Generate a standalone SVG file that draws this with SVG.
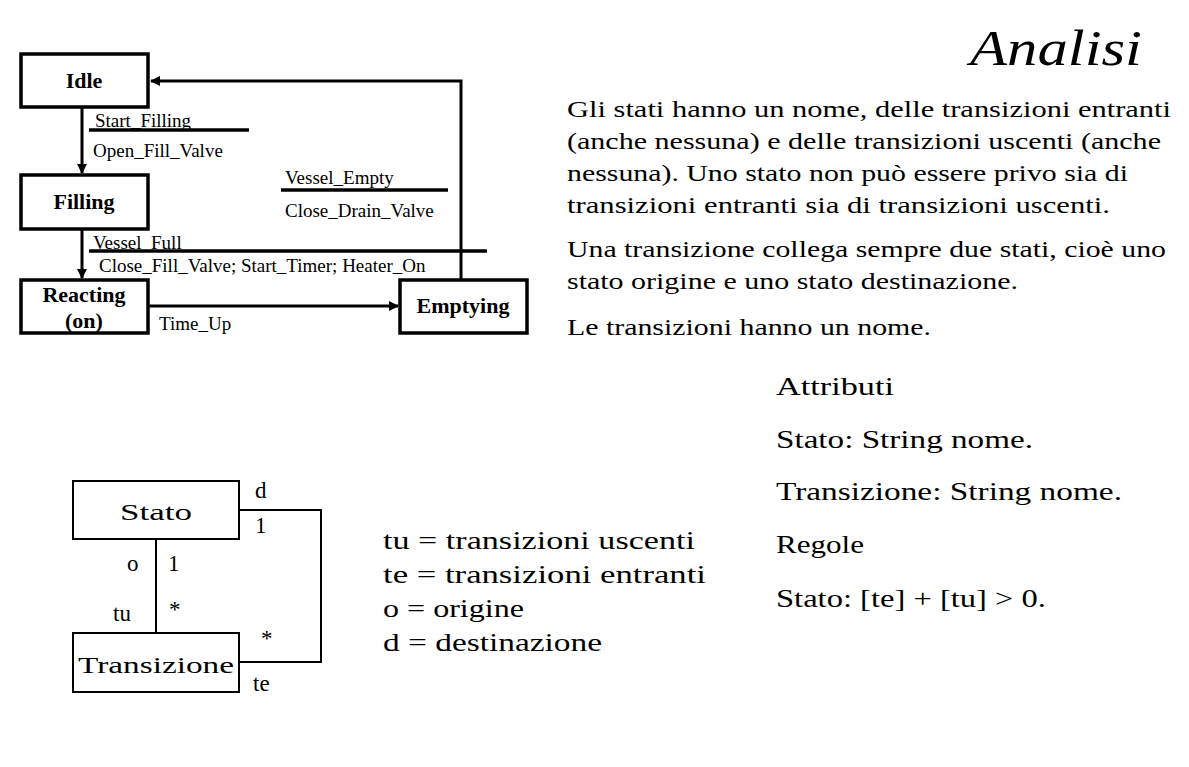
<svg xmlns="http://www.w3.org/2000/svg" width="1189" height="767" viewBox="0 0 1189 767">
<style>
.st{fill:#fff;stroke:#000;stroke-width:3.5}
.sn{font-family:"Liberation Serif",serif;font-weight:bold;font-size:22px;text-anchor:middle}
.lb{font-family:"Liberation Serif",serif;font-size:19px}
.ln{stroke:#000;stroke-width:3;fill:none}
.ul{stroke:#000;stroke-width:3.5}
.tx{font-family:"Liberation Serif","DejaVu Serif",serif;font-size:23px}
.tx2{font-family:"Liberation Serif","DejaVu Serif",serif;font-size:25px}
.ub{fill:#fff;stroke:#000;stroke-width:2}
.uc{stroke:#000;stroke-width:2;fill:none}
.um{font-family:"Liberation Serif","DejaVu Serif",serif;font-size:23px}
</style>
<defs>
<marker id="ah" markerWidth="10" markerHeight="10" refX="9" refY="5" orient="auto" markerUnits="userSpaceOnUse">
<path d="M0,0 L10,5 L0,10 Z" fill="#000"/>
</marker>
</defs>
<rect width="1189" height="767" fill="#fff"/>
<text x="970" y="65" font-family="Liberation Serif,serif" font-style="italic" font-size="50" textLength="172" lengthAdjust="spacingAndGlyphs">Analisi</text>

<g id="connectors">
<line class="ln" x1="82" y1="108" x2="82" y2="173" marker-end="url(#ah)"/>
<line class="ln" x1="82" y1="230" x2="82" y2="278" marker-end="url(#ah)"/>
<line class="ln" x1="148" y1="306" x2="398" y2="306" marker-end="url(#ah)"/>
<polyline class="ln" points="461,280 461,81 151,81" marker-end="url(#ah)"/>
<line class="ul" x1="89" y1="130" x2="249" y2="130"/>
<line class="ul" x1="281" y1="190" x2="448" y2="190"/>
<line class="ul" x1="89" y1="251" x2="487" y2="251"/>
<text class="lb" x="95" y="127">Start_Filling</text>
<text class="lb" x="93" y="157">Open_Fill_Valve</text>
<text class="lb" x="285" y="184">Vessel_Empty</text>
<text class="lb" x="285" y="217">Close_Drain_Valve</text>
<text class="lb" x="93" y="249">Vessel_Full</text>
<text class="lb" x="99" y="272">Close_Fill_Valve; Start_Timer; Heater_On</text>
<text class="lb" x="159" y="330">Time_Up</text>
</g>
<g id="idle"><rect class="st" x="21" y="54" width="127" height="53"/><text class="sn" x="84" y="88">Idle</text></g>
<g id="filling"><rect class="st" x="21" y="175" width="127" height="54"/><text class="sn" x="84" y="209">Filling</text></g>
<g id="reacting"><rect class="st" x="21" y="280" width="127" height="53"/><text class="sn" x="84" y="302">Reacting</text><text class="sn" x="84" y="328">(on)</text></g>
<g id="emptying"><rect class="st" x="400" y="280" width="127" height="53"/><text class="sn" x="463" y="313">Emptying</text></g>

<g id="paragraph">
<text class="tx" x="567" y="117" textLength="604" lengthAdjust="spacingAndGlyphs">Gli stati hanno un nome, delle transizioni entranti</text>
<text class="tx" x="567" y="149" textLength="594" lengthAdjust="spacingAndGlyphs">(anche nessuna) e delle transizioni uscenti (anche</text>
<text class="tx" x="567" y="181" textLength="561" lengthAdjust="spacingAndGlyphs">nessuna). Uno stato non può essere privo sia di</text>
<text class="tx" x="567" y="213" textLength="543" lengthAdjust="spacingAndGlyphs">transizioni entranti sia di transizioni uscenti.</text>
<text class="tx" x="567" y="257" textLength="599" lengthAdjust="spacingAndGlyphs">Una transizione collega sempre due stati, cioè uno</text>
<text class="tx" x="567" y="289" textLength="451" lengthAdjust="spacingAndGlyphs">stato origine e uno stato destinazione.</text>
<text class="tx" x="567" y="335" textLength="364" lengthAdjust="spacingAndGlyphs">Le transizioni hanno un nome.</text>
</g>
<g id="rules">
<text class="tx2" x="776" y="395" textLength="118" lengthAdjust="spacingAndGlyphs">Attributi</text>
<text class="tx2" x="776" y="448" textLength="257" lengthAdjust="spacingAndGlyphs">Stato: String nome.</text>
<text class="tx2" x="776" y="500" textLength="346" lengthAdjust="spacingAndGlyphs">Transizione: String nome.</text>
<text class="tx2" x="776" y="553" textLength="88" lengthAdjust="spacingAndGlyphs">Regole</text>
<text class="tx2" x="776" y="607" textLength="270" lengthAdjust="spacingAndGlyphs">Stato: [te] + [tu] &gt; 0.</text>
</g>
<g id="legend">
<text class="tx2" x="383" y="549" textLength="312" lengthAdjust="spacingAndGlyphs">tu = transizioni uscenti</text>
<text class="tx2" x="383" y="583" textLength="323" lengthAdjust="spacingAndGlyphs">te = transizioni entranti</text>
<text class="tx2" x="383" y="617" textLength="141" lengthAdjust="spacingAndGlyphs">o = origine</text>
<text class="tx2" x="383" y="651" textLength="219" lengthAdjust="spacingAndGlyphs">d = destinazione</text>
</g>
<g id="uml-connectors">
<line class="uc" x1="156" y1="539" x2="156" y2="633"/>
<polyline class="uc" points="239,510 321,510 321,662 239,662"/>
<text class="um" x="255" y="498">d</text>
<text class="um" x="255" y="533">1</text>
<text class="um" x="127" y="571">o</text>
<text class="um" x="168" y="571">1</text>
<text class="um" x="113" y="621">tu</text>
<text class="um" x="169" y="617">*</text>
<text class="um" x="261" y="646">*</text>
<text class="um" x="253" y="691">te</text>
</g>
<g id="stato"><rect class="ub" x="73" y="481" width="166" height="58"/><text class="um" x="156" y="520" text-anchor="middle" font-size="26" textLength="72" lengthAdjust="spacingAndGlyphs">Stato</text></g>
<g id="transizione"><rect class="ub" x="73" y="633" width="166" height="59"/><text class="um" x="78" y="673" font-size="26" textLength="156" lengthAdjust="spacingAndGlyphs">Transizione</text></g>
</svg>
